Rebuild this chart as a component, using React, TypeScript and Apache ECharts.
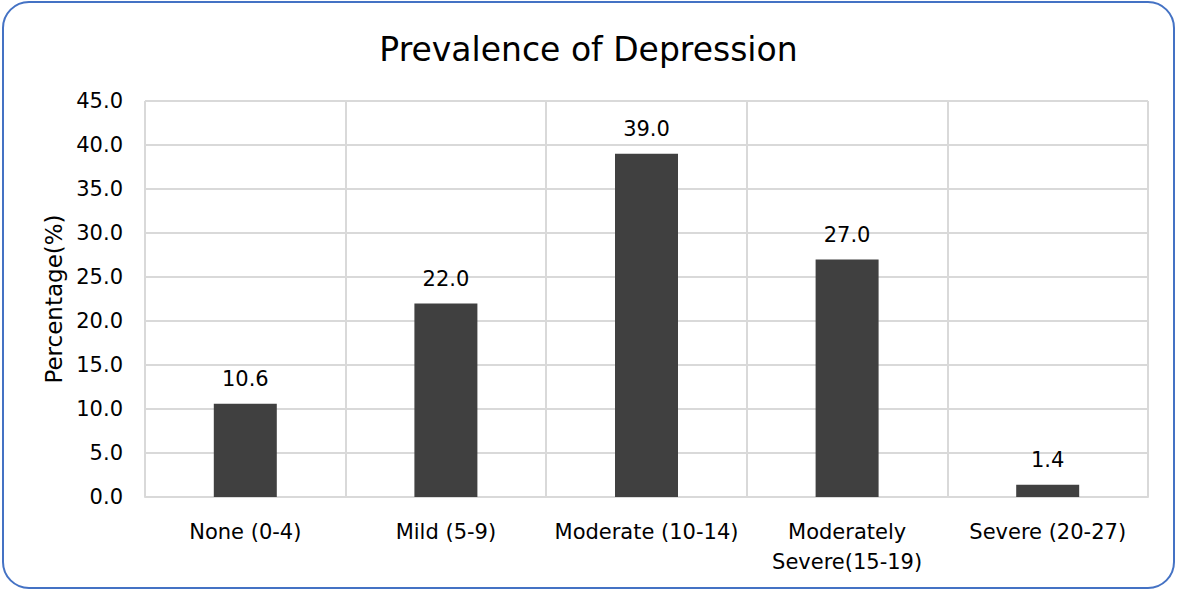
import React, { useEffect, useRef } from "react";
import * as echarts from "echarts";

const categories = [
  "None (0-4)",
  "Mild (5-9)",
  "Moderate (10-14)",
  "Moderately\nSevere(15-19)",
  "Severe (20-27)",
];
const percentages = [10.6, 22.0, 39.0, 27.0, 1.4];
const yMin = 0;
const yMax = 45;
const yStep = 5;

const FONT = "DejaVu Sans";

export default function App() {
  const ref = useRef<HTMLDivElement>(null);

  useEffect(() => {
    if (!ref.current) return;
    const chart = echarts.init(ref.current, undefined, { renderer: "svg" });
    chart.setOption({
      animation: false,
      backgroundColor: "#ffffff",
      textStyle: { fontFamily: FONT },
      title: {
        text: "Prevalence of Depression",
        left: "center",
        top: 28,
        textStyle: { fontFamily: FONT, fontSize: 33, fontWeight: "normal", color: "#000000" },
      },
      graphic: [
        {
          type: "rect",
          shape: { x: 3, y: 2, width: 1171, height: 586, r: 26 },
          style: { fill: "none", stroke: "#4472C4", lineWidth: 2 },
          silent: true,
          z: 10,
        },
      ],
      grid: { left: 145, top: 101, width: 1003, height: 396 },
      xAxis: {
        type: "category",
        data: categories,
        axisTick: { show: false },
        axisLine: { show: true, lineStyle: { color: "#d9d9d9", width: 2 } },
        splitLine: { show: true, lineStyle: { color: "#d9d9d9", width: 2 } },
        axisLabel: {
          interval: 0,
          color: "#000000",
          fontFamily: FONT,
          fontSize: 21,
          margin: 20,
          lineHeight: 30,
        },
      },
      yAxis: {
        type: "value",
        min: yMin,
        max: yMax,
        interval: yStep,
        name: "Percentage(%)",
        nameLocation: "middle",
        nameGap: 78,
        nameTextStyle: { color: "#000000", fontFamily: FONT, fontSize: 23 },
        axisLine: { show: false },
        axisTick: { show: false },
        splitLine: { show: true, lineStyle: { color: "#d9d9d9", width: 2 } },
        axisLabel: {
          color: "#000000",
          fontFamily: FONT,
          fontSize: 21,
          margin: 22,
          formatter: (v: number) => v.toFixed(1),
        },
      },
      series: [
        {
          type: "bar",
          data: percentages,
          barWidth: 63,
          itemStyle: { color: "#404040" },
          label: {
            show: true,
            position: "top",
            distance: 14,
            color: "#000000",
            fontFamily: FONT,
            fontSize: 21,
            formatter: (p: any) => Number(p.value).toFixed(1),
          },
        },
      ],
    });
    return () => chart.dispose();
  }, []);

  return (
    <div
      ref={ref}
      style={{ position: "absolute", left: 0, top: 0, width: 1177, height: 591 }}
    />
  );
}
